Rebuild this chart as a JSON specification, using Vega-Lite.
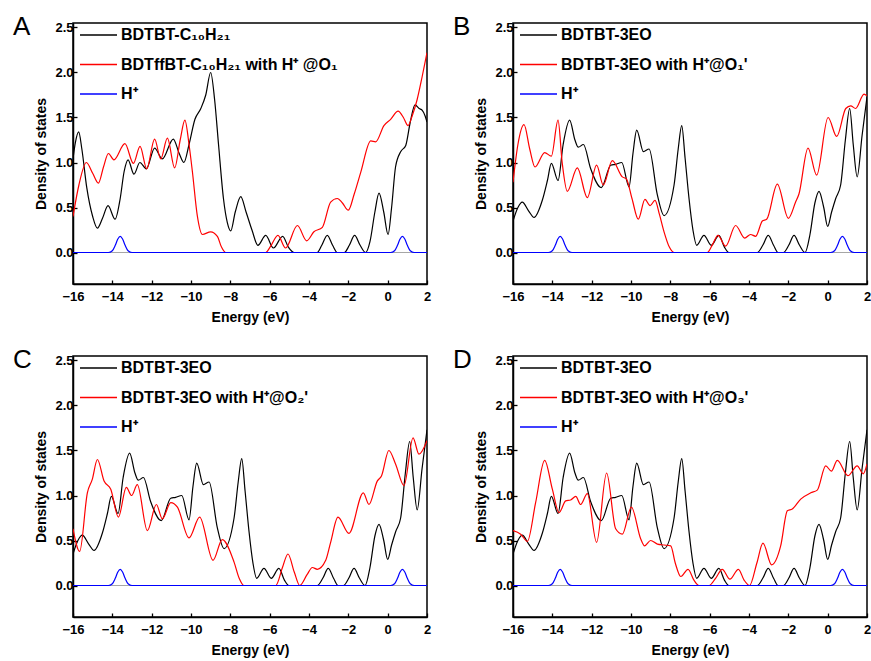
{
  "$schema": "https://vega.github.io/schema/vega-lite/v6.json",
  "background": "white",
  "padding": {"left": 12, "top": 12, "right": 2, "bottom": 2},
  "config": {
    "font": "Liberation Sans",
    "view": {"stroke": "#000000", "strokeWidth": 1.5},
    "axis": {"grid": false, "domainColor": "#000000", "domainWidth": 1.5, "tickColor": "#000000", "tickWidth": 1.3, "tickSize": -4, "labelFont": "Liberation Sans", "labelFontSize": 13, "labelFontWeight": "bold", "labelColor": "#000000", "titleFont": "Liberation Sans", "titleFontSize": 14, "titleFontWeight": "bold", "titleColor": "#000000", "labelFlush": false, "labelOverlap": false},
    "axisX": {"labelPadding": 10, "titlePadding": 7},
    "axisY": {"labelPadding": 4, "titlePadding": 6},
    "title": {"anchor": "start", "frame": "group", "dx": -60, "offset": -24, "baseline": "alphabetic", "fontSize": 26, "fontWeight": "normal", "font": "Liberation Sans", "color": "#000000"},
    "legend": {"orient": "none", "legendX": 6, "legendY": -7.5, "padding": 0, "title": null, "symbolType": "stroke", "symbolSize": 1369, "symbolStrokeWidth": 1.3, "labelFont": "Liberation Sans", "labelFontSize": 16, "labelFontWeight": "bold", "labelOffset": 3, "rowPadding": 1.5, "labelLimit": 500}
  },
  "data": {"values": [
    {"p":"A","s":"BDTBT-C₁₀H₂₁","e":-16,"d":1.04},{"p":"A","s":"BDTBT-C₁₀H₂₁","e":-15.88,"d":1.22},{"p":"A","s":"BDTBT-C₁₀H₂₁","e":-15.71,"d":1.34},{"p":"A","s":"BDTBT-C₁₀H₂₁","e":-15.55,"d":1.15},{"p":"A","s":"BDTBT-C₁₀H₂₁","e":-15.3,"d":0.72},{"p":"A","s":"BDTBT-C₁₀H₂₁","e":-15.0,"d":0.4},{"p":"A","s":"BDTBT-C₁₀H₂₁","e":-14.76,"d":0.27},{"p":"A","s":"BDTBT-C₁₀H₂₁","e":-14.5,"d":0.38},{"p":"A","s":"BDTBT-C₁₀H₂₁","e":-14.22,"d":0.52},{"p":"A","s":"BDTBT-C₁₀H₂₁","e":-13.86,"d":0.37},{"p":"A","s":"BDTBT-C₁₀H₂₁","e":-13.6,"d":0.6},{"p":"A","s":"BDTBT-C₁₀H₂₁","e":-13.4,"d":0.9},{"p":"A","s":"BDTBT-C₁₀H₂₁","e":-13.2,"d":1.03},{"p":"A","s":"BDTBT-C₁₀H₂₁","e":-12.9,"d":0.87},{"p":"A","s":"BDTBT-C₁₀H₂₁","e":-12.6,"d":1.0},{"p":"A","s":"BDTBT-C₁₀H₂₁","e":-12.27,"d":0.93},{"p":"A","s":"BDTBT-C₁₀H₂₁","e":-11.85,"d":1.16},{"p":"A","s":"BDTBT-C₁₀H₂₁","e":-11.46,"d":1.04},{"p":"A","s":"BDTBT-C₁₀H₂₁","e":-10.9,"d":1.26},{"p":"A","s":"BDTBT-C₁₀H₂₁","e":-10.6,"d":1.1},{"p":"A","s":"BDTBT-C₁₀H₂₁","e":-10.36,"d":1.0},{"p":"A","s":"BDTBT-C₁₀H₂₁","e":-10.1,"d":1.2},{"p":"A","s":"BDTBT-C₁₀H₂₁","e":-9.8,"d":1.48},{"p":"A","s":"BDTBT-C₁₀H₂₁","e":-9.5,"d":1.6},{"p":"A","s":"BDTBT-C₁₀H₂₁","e":-9.25,"d":1.75},{"p":"A","s":"BDTBT-C₁₀H₂₁","e":-9.0,"d":2.0},{"p":"A","s":"BDTBT-C₁₀H₂₁","e":-8.8,"d":1.7},{"p":"A","s":"BDTBT-C₁₀H₂₁","e":-8.6,"d":1.2},{"p":"A","s":"BDTBT-C₁₀H₂₁","e":-8.35,"d":0.6},{"p":"A","s":"BDTBT-C₁₀H₂₁","e":-8.15,"d":0.33},{"p":"A","s":"BDTBT-C₁₀H₂₁","e":-7.98,"d":0.24},{"p":"A","s":"BDTBT-C₁₀H₂₁","e":-7.75,"d":0.45},{"p":"A","s":"BDTBT-C₁₀H₂₁","e":-7.47,"d":0.62},{"p":"A","s":"BDTBT-C₁₀H₂₁","e":-7.2,"d":0.45},{"p":"A","s":"BDTBT-C₁₀H₂₁","e":-6.9,"d":0.25},{"p":"A","s":"BDTBT-C₁₀H₂₁","e":-6.6,"d":0.08},{"p":"A","s":"BDTBT-C₁₀H₂₁","e":-6.2,"d":0.19},{"p":"A","s":"BDTBT-C₁₀H₂₁","e":-5.81,"d":0.05},{"p":"A","s":"BDTBT-C₁₀H₂₁","e":-5.34,"d":0.18},{"p":"A","s":"BDTBT-C₁₀H₂₁","e":-5.05,"d":0.06},{"p":"A","s":"BDTBT-C₁₀H₂₁","e":-4.76,"d":0},{"p":"A","s":"BDTBT-C₁₀H₂₁","e":-3.58,"d":0},{"p":"A","s":"BDTBT-C₁₀H₂₁","e":-3.35,"d":0.08},{"p":"A","s":"BDTBT-C₁₀H₂₁","e":-3.07,"d":0.19},{"p":"A","s":"BDTBT-C₁₀H₂₁","e":-2.8,"d":0.08},{"p":"A","s":"BDTBT-C₁₀H₂₁","e":-2.56,"d":0},{"p":"A","s":"BDTBT-C₁₀H₂₁","e":-2.2,"d":0},{"p":"A","s":"BDTBT-C₁₀H₂₁","e":-1.95,"d":0.08},{"p":"A","s":"BDTBT-C₁₀H₂₁","e":-1.68,"d":0.19},{"p":"A","s":"BDTBT-C₁₀H₂₁","e":-1.4,"d":0.08},{"p":"A","s":"BDTBT-C₁₀H₂₁","e":-1.12,"d":0},{"p":"A","s":"BDTBT-C₁₀H₂₁","e":-0.9,"d":0.12},{"p":"A","s":"BDTBT-C₁₀H₂₁","e":-0.65,"d":0.45},{"p":"A","s":"BDTBT-C₁₀H₂₁","e":-0.44,"d":0.66},{"p":"A","s":"BDTBT-C₁₀H₂₁","e":-0.2,"d":0.45},{"p":"A","s":"BDTBT-C₁₀H₂₁","e":0.02,"d":0.2},{"p":"A","s":"BDTBT-C₁₀H₂₁","e":0.2,"d":0.5},{"p":"A","s":"BDTBT-C₁₀H₂₁","e":0.4,"d":0.95},{"p":"A","s":"BDTBT-C₁₀H₂₁","e":0.66,"d":1.12},{"p":"A","s":"BDTBT-C₁₀H₂₁","e":0.92,"d":1.19},{"p":"A","s":"BDTBT-C₁₀H₂₁","e":1.15,"d":1.45},{"p":"A","s":"BDTBT-C₁₀H₂₁","e":1.39,"d":1.64},{"p":"A","s":"BDTBT-C₁₀H₂₁","e":1.6,"d":1.6},{"p":"A","s":"BDTBT-C₁₀H₂₁","e":1.76,"d":1.58},{"p":"A","s":"BDTBT-C₁₀H₂₁","e":1.9,"d":1.52},{"p":"A","s":"BDTBT-C₁₀H₂₁","e":2,"d":1.45},

    {"p":"A","s":"BDTffBT-C₁₀H₂₁ with H⁺ @O₁","e":-16,"d":0.4},{"p":"A","s":"BDTffBT-C₁₀H₂₁ with H⁺ @O₁","e":-15.7,"d":0.75},{"p":"A","s":"BDTffBT-C₁₀H₂₁ with H⁺ @O₁","e":-15.32,"d":1.0},{"p":"A","s":"BDTffBT-C₁₀H₂₁ with H⁺ @O₁","e":-15.0,"d":0.88},{"p":"A","s":"BDTffBT-C₁₀H₂₁ with H⁺ @O₁","e":-14.71,"d":0.77},{"p":"A","s":"BDTffBT-C₁₀H₂₁ with H⁺ @O₁","e":-14.45,"d":0.95},{"p":"A","s":"BDTffBT-C₁₀H₂₁ with H⁺ @O₁","e":-14.2,"d":1.1},{"p":"A","s":"BDTffBT-C₁₀H₂₁ with H⁺ @O₁","e":-13.92,"d":1.03},{"p":"A","s":"BDTffBT-C₁₀H₂₁ with H⁺ @O₁","e":-13.36,"d":1.21},{"p":"A","s":"BDTffBT-C₁₀H₂₁ with H⁺ @O₁","e":-12.93,"d":0.99},{"p":"A","s":"BDTffBT-C₁₀H₂₁ with H⁺ @O₁","e":-12.59,"d":1.18},{"p":"A","s":"BDTffBT-C₁₀H₂₁ with H⁺ @O₁","e":-12.25,"d":0.93},{"p":"A","s":"BDTffBT-C₁₀H₂₁ with H⁺ @O₁","e":-11.85,"d":1.26},{"p":"A","s":"BDTffBT-C₁₀H₂₁ with H⁺ @O₁","e":-11.54,"d":1.04},{"p":"A","s":"BDTffBT-C₁₀H₂₁ with H⁺ @O₁","e":-11.2,"d":1.27},{"p":"A","s":"BDTffBT-C₁₀H₂₁ with H⁺ @O₁","e":-10.83,"d":0.94},{"p":"A","s":"BDTffBT-C₁₀H₂₁ with H⁺ @O₁","e":-10.55,"d":1.25},{"p":"A","s":"BDTffBT-C₁₀H₂₁ with H⁺ @O₁","e":-10.31,"d":1.47},{"p":"A","s":"BDTffBT-C₁₀H₂₁ with H⁺ @O₁","e":-10.1,"d":1.2},{"p":"A","s":"BDTffBT-C₁₀H₂₁ with H⁺ @O₁","e":-9.93,"d":0.9},{"p":"A","s":"BDTffBT-C₁₀H₂₁ with H⁺ @O₁","e":-9.68,"d":0.41},{"p":"A","s":"BDTffBT-C₁₀H₂₁ with H⁺ @O₁","e":-9.42,"d":0.2},{"p":"A","s":"BDTffBT-C₁₀H₂₁ with H⁺ @O₁","e":-9.0,"d":0.23},{"p":"A","s":"BDTffBT-C₁₀H₂₁ with H⁺ @O₁","e":-8.66,"d":0.18},{"p":"A","s":"BDTffBT-C₁₀H₂₁ with H⁺ @O₁","e":-8.45,"d":0.06},{"p":"A","s":"BDTffBT-C₁₀H₂₁ with H⁺ @O₁","e":-8.24,"d":0},{"p":"A","s":"BDTffBT-C₁₀H₂₁ with H⁺ @O₁","e":-6.2,"d":0},{"p":"A","s":"BDTffBT-C₁₀H₂₁ with H⁺ @O₁","e":-5.95,"d":0.07},{"p":"A","s":"BDTffBT-C₁₀H₂₁ with H⁺ @O₁","e":-5.58,"d":0.19},{"p":"A","s":"BDTffBT-C₁₀H₂₁ with H⁺ @O₁","e":-5.19,"d":0.05},{"p":"A","s":"BDTffBT-C₁₀H₂₁ with H⁺ @O₁","e":-4.59,"d":0.3},{"p":"A","s":"BDTffBT-C₁₀H₂₁ with H⁺ @O₁","e":-4.12,"d":0.13},{"p":"A","s":"BDTffBT-C₁₀H₂₁ with H⁺ @O₁","e":-3.75,"d":0.23},{"p":"A","s":"BDTffBT-C₁₀H₂₁ with H⁺ @O₁","e":-3.32,"d":0.28},{"p":"A","s":"BDTffBT-C₁₀H₂₁ with H⁺ @O₁","e":-2.9,"d":0.56},{"p":"A","s":"BDTffBT-C₁₀H₂₁ with H⁺ @O₁","e":-2.56,"d":0.6},{"p":"A","s":"BDTffBT-C₁₀H₂₁ with H⁺ @O₁","e":-2.3,"d":0.55},{"p":"A","s":"BDTffBT-C₁₀H₂₁ with H⁺ @O₁","e":-2.0,"d":0.47},{"p":"A","s":"BDTffBT-C₁₀H₂₁ with H⁺ @O₁","e":-1.7,"d":0.65},{"p":"A","s":"BDTffBT-C₁₀H₂₁ with H⁺ @O₁","e":-1.37,"d":0.89},{"p":"A","s":"BDTffBT-C₁₀H₂₁ with H⁺ @O₁","e":-0.86,"d":1.24},{"p":"A","s":"BDTffBT-C₁₀H₂₁ with H⁺ @O₁","e":-0.61,"d":1.23},{"p":"A","s":"BDTffBT-C₁₀H₂₁ with H⁺ @O₁","e":-0.19,"d":1.41},{"p":"A","s":"BDTffBT-C₁₀H₂₁ with H⁺ @O₁","e":0.15,"d":1.48},{"p":"A","s":"BDTffBT-C₁₀H₂₁ with H⁺ @O₁","e":0.53,"d":1.57},{"p":"A","s":"BDTffBT-C₁₀H₂₁ with H⁺ @O₁","e":0.8,"d":1.5},{"p":"A","s":"BDTffBT-C₁₀H₂₁ with H⁺ @O₁","e":1.03,"d":1.41},{"p":"A","s":"BDTffBT-C₁₀H₂₁ with H⁺ @O₁","e":1.25,"d":1.52},{"p":"A","s":"BDTffBT-C₁₀H₂₁ with H⁺ @O₁","e":1.5,"d":1.7},{"p":"A","s":"BDTffBT-C₁₀H₂₁ with H⁺ @O₁","e":1.75,"d":1.95},{"p":"A","s":"BDTffBT-C₁₀H₂₁ with H⁺ @O₁","e":2,"d":2.22},

    {"p":"BCD","s":"BDTBT-3EO","e":-16,"d":0.35},{"p":"BCD","s":"BDTBT-3EO","e":-15.75,"d":0.5},{"p":"BCD","s":"BDTBT-3EO","e":-15.53,"d":0.56},{"p":"BCD","s":"BDTBT-3EO","e":-15.2,"d":0.46},{"p":"BCD","s":"BDTBT-3EO","e":-14.93,"d":0.39},{"p":"BCD","s":"BDTBT-3EO","e":-14.51,"d":0.58},{"p":"BCD","s":"BDTBT-3EO","e":-14.25,"d":0.8},{"p":"BCD","s":"BDTBT-3EO","e":-14.05,"d":0.99},{"p":"BCD","s":"BDTBT-3EO","e":-13.71,"d":0.8},{"p":"BCD","s":"BDTBT-3EO","e":-13.45,"d":1.2},{"p":"BCD","s":"BDTBT-3EO","e":-13.12,"d":1.47},{"p":"BCD","s":"BDTBT-3EO","e":-12.85,"d":1.25},{"p":"BCD","s":"BDTBT-3EO","e":-12.68,"d":1.17},{"p":"BCD","s":"BDTBT-3EO","e":-12.42,"d":1.2},{"p":"BCD","s":"BDTBT-3EO","e":-12.05,"d":0.93},{"p":"BCD","s":"BDTBT-3EO","e":-11.51,"d":0.72},{"p":"BCD","s":"BDTBT-3EO","e":-11.03,"d":0.97},{"p":"BCD","s":"BDTBT-3EO","e":-10.78,"d":0.98},{"p":"BCD","s":"BDTBT-3EO","e":-10.47,"d":1.0},{"p":"BCD","s":"BDTBT-3EO","e":-10.1,"d":0.73},{"p":"BCD","s":"BDTBT-3EO","e":-9.9,"d":1.1},{"p":"BCD","s":"BDTBT-3EO","e":-9.71,"d":1.36},{"p":"BCD","s":"BDTBT-3EO","e":-9.37,"d":1.12},{"p":"BCD","s":"BDTBT-3EO","e":-9.08,"d":1.15},{"p":"BCD","s":"BDTBT-3EO","e":-8.66,"d":0.64},{"p":"BCD","s":"BDTBT-3EO","e":-8.32,"d":0.41},{"p":"BCD","s":"BDTBT-3EO","e":-7.81,"d":0.75},{"p":"BCD","s":"BDTBT-3EO","e":-7.6,"d":1.15},{"p":"BCD","s":"BDTBT-3EO","e":-7.42,"d":1.41},{"p":"BCD","s":"BDTBT-3EO","e":-7.25,"d":1.05},{"p":"BCD","s":"BDTBT-3EO","e":-7.05,"d":0.6},{"p":"BCD","s":"BDTBT-3EO","e":-6.85,"d":0.25},{"p":"BCD","s":"BDTBT-3EO","e":-6.66,"d":0.08},{"p":"BCD","s":"BDTBT-3EO","e":-6.29,"d":0.19},{"p":"BCD","s":"BDTBT-3EO","e":-5.92,"d":0.08},{"p":"BCD","s":"BDTBT-3EO","e":-5.53,"d":0.19},{"p":"BCD","s":"BDTBT-3EO","e":-5.25,"d":0.06},{"p":"BCD","s":"BDTBT-3EO","e":-5.02,"d":0},{"p":"BCD","s":"BDTBT-3EO","e":-3.58,"d":0},{"p":"BCD","s":"BDTBT-3EO","e":-3.3,"d":0.08},{"p":"BCD","s":"BDTBT-3EO","e":-3.02,"d":0.19},{"p":"BCD","s":"BDTBT-3EO","e":-2.75,"d":0.08},{"p":"BCD","s":"BDTBT-3EO","e":-2.53,"d":0},{"p":"BCD","s":"BDTBT-3EO","e":-2.25,"d":0},{"p":"BCD","s":"BDTBT-3EO","e":-1.98,"d":0.08},{"p":"BCD","s":"BDTBT-3EO","e":-1.71,"d":0.19},{"p":"BCD","s":"BDTBT-3EO","e":-1.43,"d":0.08},{"p":"BCD","s":"BDTBT-3EO","e":-1.15,"d":0},{"p":"BCD","s":"BDTBT-3EO","e":-0.9,"d":0.2},{"p":"BCD","s":"BDTBT-3EO","e":-0.65,"d":0.55},{"p":"BCD","s":"BDTBT-3EO","e":-0.44,"d":0.68},{"p":"BCD","s":"BDTBT-3EO","e":-0.2,"d":0.5},{"p":"BCD","s":"BDTBT-3EO","e":0.0,"d":0.29},{"p":"BCD","s":"BDTBT-3EO","e":0.2,"d":0.45},{"p":"BCD","s":"BDTBT-3EO","e":0.41,"d":0.6},{"p":"BCD","s":"BDTBT-3EO","e":0.66,"d":0.75},{"p":"BCD","s":"BDTBT-3EO","e":0.9,"d":1.25},{"p":"BCD","s":"BDTBT-3EO","e":1.12,"d":1.6},{"p":"BCD","s":"BDTBT-3EO","e":1.3,"d":1.2},{"p":"BCD","s":"BDTBT-3EO","e":1.5,"d":0.84},{"p":"BCD","s":"BDTBT-3EO","e":1.75,"d":1.3},{"p":"BCD","s":"BDTBT-3EO","e":2,"d":1.73},

    {"p":"B","s":"BDTBT-3EO with H⁺@O₁'","e":-16,"d":0.78},{"p":"B","s":"BDTBT-3EO with H⁺@O₁'","e":-15.75,"d":1.2},{"p":"B","s":"BDTBT-3EO with H⁺@O₁'","e":-15.44,"d":1.42},{"p":"B","s":"BDTBT-3EO with H⁺@O₁'","e":-15.15,"d":1.15},{"p":"B","s":"BDTBT-3EO with H⁺@O₁'","e":-14.88,"d":0.95},{"p":"B","s":"BDTBT-3EO with H⁺@O₁'","e":-14.39,"d":1.11},{"p":"B","s":"BDTBT-3EO with H⁺@O₁'","e":-14.05,"d":1.07},{"p":"B","s":"BDTBT-3EO with H⁺@O₁'","e":-13.71,"d":1.47},{"p":"B","s":"BDTBT-3EO with H⁺@O₁'","e":-13.5,"d":1.0},{"p":"B","s":"BDTBT-3EO with H⁺@O₁'","e":-13.24,"d":0.68},{"p":"B","s":"BDTBT-3EO with H⁺@O₁'","e":-12.73,"d":0.94},{"p":"B","s":"BDTBT-3EO with H⁺@O₁'","e":-12.22,"d":0.61},{"p":"B","s":"BDTBT-3EO with H⁺@O₁'","e":-11.75,"d":0.97},{"p":"B","s":"BDTBT-3EO with H⁺@O₁'","e":-11.41,"d":0.75},{"p":"B","s":"BDTBT-3EO with H⁺@O₁'","e":-10.95,"d":1.02},{"p":"B","s":"BDTBT-3EO with H⁺@O₁'","e":-10.44,"d":0.84},{"p":"B","s":"BDTBT-3EO with H⁺@O₁'","e":-10.24,"d":0.82},{"p":"B","s":"BDTBT-3EO with H⁺@O₁'","e":-9.95,"d":0.6},{"p":"B","s":"BDTBT-3EO with H⁺@O₁'","e":-9.63,"d":0.37},{"p":"B","s":"BDTBT-3EO with H⁺@O₁'","e":-9.29,"d":0.59},{"p":"B","s":"BDTBT-3EO with H⁺@O₁'","e":-9.03,"d":0.52},{"p":"B","s":"BDTBT-3EO with H⁺@O₁'","e":-8.78,"d":0.58},{"p":"B","s":"BDTBT-3EO with H⁺@O₁'","e":-8.55,"d":0.42},{"p":"B","s":"BDTBT-3EO with H⁺@O₁'","e":-8.32,"d":0.23},{"p":"B","s":"BDTBT-3EO with H⁺@O₁'","e":-8.05,"d":0.06},{"p":"B","s":"BDTBT-3EO with H⁺@O₁'","e":-7.81,"d":0},{"p":"B","s":"BDTBT-3EO with H⁺@O₁'","e":-6.12,"d":0},{"p":"B","s":"BDTBT-3EO with H⁺@O₁'","e":-5.85,"d":0.09},{"p":"B","s":"BDTBT-3EO with H⁺@O₁'","e":-5.58,"d":0.19},{"p":"B","s":"BDTBT-3EO with H⁺@O₁'","e":-5.19,"d":0.07},{"p":"B","s":"BDTBT-3EO with H⁺@O₁'","e":-4.68,"d":0.3},{"p":"B","s":"BDTBT-3EO with H⁺@O₁'","e":-4.22,"d":0.16},{"p":"B","s":"BDTBT-3EO with H⁺@O₁'","e":-3.92,"d":0.2},{"p":"B","s":"BDTBT-3EO with H⁺@O₁'","e":-3.66,"d":0.18},{"p":"B","s":"BDTBT-3EO with H⁺@O₁'","e":-3.32,"d":0.35},{"p":"B","s":"BDTBT-3EO with H⁺@O₁'","e":-3.1,"d":0.37},{"p":"B","s":"BDTBT-3EO with H⁺@O₁'","e":-2.56,"d":0.76},{"p":"B","s":"BDTBT-3EO with H⁺@O₁'","e":-2.0,"d":0.38},{"p":"B","s":"BDTBT-3EO with H⁺@O₁'","e":-1.63,"d":0.56},{"p":"B","s":"BDTBT-3EO with H⁺@O₁'","e":-1.46,"d":0.65},{"p":"B","s":"BDTBT-3EO with H⁺@O₁'","e":-1.0,"d":1.16},{"p":"B","s":"BDTBT-3EO with H⁺@O₁'","e":-0.56,"d":0.86},{"p":"B","s":"BDTBT-3EO with H⁺@O₁'","e":0.02,"d":1.5},{"p":"B","s":"BDTBT-3EO with H⁺@O₁'","e":0.46,"d":1.29},{"p":"B","s":"BDTBT-3EO with H⁺@O₁'","e":0.92,"d":1.6},{"p":"B","s":"BDTBT-3EO with H⁺@O₁'","e":1.17,"d":1.63},{"p":"B","s":"BDTBT-3EO with H⁺@O₁'","e":1.42,"d":1.6},{"p":"B","s":"BDTBT-3EO with H⁺@O₁'","e":1.85,"d":1.76},{"p":"B","s":"BDTBT-3EO with H⁺@O₁'","e":2,"d":1.74},

    {"p":"C","s":"BDTBT-3EO with H⁺@O₂'","e":-16,"d":0.63},{"p":"C","s":"BDTBT-3EO with H⁺@O₂'","e":-15.66,"d":0.38},{"p":"C","s":"BDTBT-3EO with H⁺@O₂'","e":-15.27,"d":1.03},{"p":"C","s":"BDTBT-3EO with H⁺@O₂'","e":-15.02,"d":1.18},{"p":"C","s":"BDTBT-3EO with H⁺@O₂'","e":-14.76,"d":1.4},{"p":"C","s":"BDTBT-3EO with H⁺@O₂'","e":-14.42,"d":1.16},{"p":"C","s":"BDTBT-3EO with H⁺@O₂'","e":-14.08,"d":1.07},{"p":"C","s":"BDTBT-3EO with H⁺@O₂'","e":-13.69,"d":0.76},{"p":"C","s":"BDTBT-3EO with H⁺@O₂'","e":-13.29,"d":1.09},{"p":"C","s":"BDTBT-3EO with H⁺@O₂'","e":-13.02,"d":1.0},{"p":"C","s":"BDTBT-3EO with H⁺@O₂'","e":-12.73,"d":1.12},{"p":"C","s":"BDTBT-3EO with H⁺@O₂'","e":-12.22,"d":0.61},{"p":"C","s":"BDTBT-3EO with H⁺@O₂'","e":-11.76,"d":0.9},{"p":"C","s":"BDTBT-3EO with H⁺@O₂'","e":-11.46,"d":0.74},{"p":"C","s":"BDTBT-3EO with H⁺@O₂'","e":-11.03,"d":0.92},{"p":"C","s":"BDTBT-3EO with H⁺@O₂'","e":-10.69,"d":0.87},{"p":"C","s":"BDTBT-3EO with H⁺@O₂'","e":-10.1,"d":0.53},{"p":"C","s":"BDTBT-3EO with H⁺@O₂'","e":-9.56,"d":0.76},{"p":"C","s":"BDTBT-3EO with H⁺@O₂'","e":-8.88,"d":0.28},{"p":"C","s":"BDTBT-3EO with H⁺@O₂'","e":-8.41,"d":0.51},{"p":"C","s":"BDTBT-3EO with H⁺@O₂'","e":-7.81,"d":0.26},{"p":"C","s":"BDTBT-3EO with H⁺@O₂'","e":-7.55,"d":0.08},{"p":"C","s":"BDTBT-3EO with H⁺@O₂'","e":-7.31,"d":0},{"p":"C","s":"BDTBT-3EO with H⁺@O₂'","e":-5.69,"d":0},{"p":"C","s":"BDTBT-3EO with H⁺@O₂'","e":-5.35,"d":0.2},{"p":"C","s":"BDTBT-3EO with H⁺@O₂'","e":-5.07,"d":0.35},{"p":"C","s":"BDTBT-3EO with H⁺@O₂'","e":-4.75,"d":0.15},{"p":"C","s":"BDTBT-3EO with H⁺@O₂'","e":-4.47,"d":0},{"p":"C","s":"BDTBT-3EO with H⁺@O₂'","e":-4.1,"d":0.12},{"p":"C","s":"BDTBT-3EO with H⁺@O₂'","e":-3.83,"d":0.2},{"p":"C","s":"BDTBT-3EO with H⁺@O₂'","e":-3.58,"d":0.18},{"p":"C","s":"BDTBT-3EO with H⁺@O₂'","e":-3.15,"d":0.28},{"p":"C","s":"BDTBT-3EO with H⁺@O₂'","e":-2.9,"d":0.48},{"p":"C","s":"BDTBT-3EO with H⁺@O₂'","e":-2.53,"d":0.76},{"p":"C","s":"BDTBT-3EO with H⁺@O₂'","e":-1.97,"d":0.58},{"p":"C","s":"BDTBT-3EO with H⁺@O₂'","e":-1.24,"d":1.03},{"p":"C","s":"BDTBT-3EO with H⁺@O₂'","e":-0.95,"d":0.9},{"p":"C","s":"BDTBT-3EO with H⁺@O₂'","e":-0.53,"d":1.16},{"p":"C","s":"BDTBT-3EO with H⁺@O₂'","e":-0.31,"d":1.22},{"p":"C","s":"BDTBT-3EO with H⁺@O₂'","e":0.06,"d":1.5},{"p":"C","s":"BDTBT-3EO with H⁺@O₂'","e":0.4,"d":1.35},{"p":"C","s":"BDTBT-3EO with H⁺@O₂'","e":0.83,"d":1.11},{"p":"C","s":"BDTBT-3EO with H⁺@O₂'","e":1.29,"d":1.64},{"p":"C","s":"BDTBT-3EO with H⁺@O₂'","e":1.59,"d":1.46},{"p":"C","s":"BDTBT-3EO with H⁺@O₂'","e":2,"d":1.61},

    {"p":"D","s":"BDTBT-3EO with H⁺@O₃'","e":-16,"d":0.61},{"p":"D","s":"BDTBT-3EO with H⁺@O₃'","e":-15.61,"d":0.57},{"p":"D","s":"BDTBT-3EO with H⁺@O₃'","e":-15.27,"d":0.49},{"p":"D","s":"BDTBT-3EO with H⁺@O₃'","e":-14.85,"d":0.92},{"p":"D","s":"BDTBT-3EO with H⁺@O₃'","e":-14.39,"d":1.39},{"p":"D","s":"BDTBT-3EO with H⁺@O₃'","e":-14.0,"d":1.07},{"p":"D","s":"BDTBT-3EO with H⁺@O₃'","e":-13.66,"d":0.81},{"p":"D","s":"BDTBT-3EO with H⁺@O₃'","e":-13.32,"d":0.94},{"p":"D","s":"BDTBT-3EO with H⁺@O₃'","e":-13.07,"d":0.95},{"p":"D","s":"BDTBT-3EO with H⁺@O₃'","e":-12.81,"d":0.99},{"p":"D","s":"BDTBT-3EO with H⁺@O₃'","e":-12.56,"d":0.9},{"p":"D","s":"BDTBT-3EO with H⁺@O₃'","e":-12.22,"d":1.02},{"p":"D","s":"BDTBT-3EO with H⁺@O₃'","e":-11.75,"d":0.48},{"p":"D","s":"BDTBT-3EO with H⁺@O₃'","e":-11.24,"d":1.25},{"p":"D","s":"BDTBT-3EO with H⁺@O₃'","e":-10.78,"d":0.63},{"p":"D","s":"BDTBT-3EO with H⁺@O₃'","e":-10.44,"d":0.57},{"p":"D","s":"BDTBT-3EO with H⁺@O₃'","e":-9.98,"d":0.87},{"p":"D","s":"BDTBT-3EO with H⁺@O₃'","e":-9.51,"d":0.52},{"p":"D","s":"BDTBT-3EO with H⁺@O₃'","e":-9.31,"d":0.44},{"p":"D","s":"BDTBT-3EO with H⁺@O₃'","e":-9.0,"d":0.5},{"p":"D","s":"BDTBT-3EO with H⁺@O₃'","e":-8.66,"d":0.46},{"p":"D","s":"BDTBT-3EO with H⁺@O₃'","e":-8.32,"d":0.45},{"p":"D","s":"BDTBT-3EO with H⁺@O₃'","e":-7.98,"d":0.44},{"p":"D","s":"BDTBT-3EO with H⁺@O₃'","e":-7.75,"d":0.25},{"p":"D","s":"BDTBT-3EO with H⁺@O₃'","e":-7.47,"d":0.1},{"p":"D","s":"BDTBT-3EO with H⁺@O₃'","e":-7.1,"d":0.18},{"p":"D","s":"BDTBT-3EO with H⁺@O₃'","e":-6.8,"d":0.06},{"p":"D","s":"BDTBT-3EO with H⁺@O₃'","e":-6.54,"d":0},{"p":"D","s":"BDTBT-3EO with H⁺@O₃'","e":-6.03,"d":0},{"p":"D","s":"BDTBT-3EO with H⁺@O₃'","e":-5.7,"d":0.08},{"p":"D","s":"BDTBT-3EO with H⁺@O₃'","e":-5.36,"d":0.18},{"p":"D","s":"BDTBT-3EO with H⁺@O₃'","e":-4.97,"d":0.07},{"p":"D","s":"BDTBT-3EO with H⁺@O₃'","e":-4.54,"d":0.18},{"p":"D","s":"BDTBT-3EO with H⁺@O₃'","e":-4.25,"d":0.06},{"p":"D","s":"BDTBT-3EO with H⁺@O₃'","e":-3.97,"d":0},{"p":"D","s":"BDTBT-3EO with H⁺@O₃'","e":-3.6,"d":0.25},{"p":"D","s":"BDTBT-3EO with H⁺@O₃'","e":-3.29,"d":0.47},{"p":"D","s":"BDTBT-3EO with H⁺@O₃'","e":-2.85,"d":0.23},{"p":"D","s":"BDTBT-3EO with H⁺@O₃'","e":-2.39,"d":0.44},{"p":"D","s":"BDTBT-3EO with H⁺@O₃'","e":-2.05,"d":0.83},{"p":"D","s":"BDTBT-3EO with H⁺@O₃'","e":-1.8,"d":0.85},{"p":"D","s":"BDTBT-3EO with H⁺@O₃'","e":-1.37,"d":0.96},{"p":"D","s":"BDTBT-3EO with H⁺@O₃'","e":-0.86,"d":1.03},{"p":"D","s":"BDTBT-3EO with H⁺@O₃'","e":-0.53,"d":1.06},{"p":"D","s":"BDTBT-3EO with H⁺@O₃'","e":-0.1,"d":1.33},{"p":"D","s":"BDTBT-3EO with H⁺@O₃'","e":0.19,"d":1.27},{"p":"D","s":"BDTBT-3EO with H⁺@O₃'","e":0.49,"d":1.39},{"p":"D","s":"BDTBT-3EO with H⁺@O₃'","e":1.03,"d":1.22},{"p":"D","s":"BDTBT-3EO with H⁺@O₃'","e":1.5,"d":1.33},{"p":"D","s":"BDTBT-3EO with H⁺@O₃'","e":1.81,"d":1.24},{"p":"D","s":"BDTBT-3EO with H⁺@O₃'","e":2,"d":1.35},

    {"p":"ABCD","s":"H⁺","e":-16,"d":0},{"p":"ABCD","s":"H⁺","e":-14.2,"d":0},{"p":"ABCD","s":"H⁺","e":-14.0,"d":0.02},{"p":"ABCD","s":"H⁺","e":-13.85,"d":0.08},{"p":"ABCD","s":"H⁺","e":-13.72,"d":0.15},{"p":"ABCD","s":"H⁺","e":-13.6,"d":0.18},{"p":"ABCD","s":"H⁺","e":-13.48,"d":0.15},{"p":"ABCD","s":"H⁺","e":-13.35,"d":0.08},{"p":"ABCD","s":"H⁺","e":-13.2,"d":0.02},{"p":"ABCD","s":"H⁺","e":-13.0,"d":0},{"p":"ABCD","s":"H⁺","e":0.15,"d":0},{"p":"ABCD","s":"H⁺","e":0.35,"d":0.02},{"p":"ABCD","s":"H⁺","e":0.5,"d":0.08},{"p":"ABCD","s":"H⁺","e":0.63,"d":0.15},{"p":"ABCD","s":"H⁺","e":0.75,"d":0.18},{"p":"ABCD","s":"H⁺","e":0.87,"d":0.15},{"p":"ABCD","s":"H⁺","e":1.0,"d":0.08},{"p":"ABCD","s":"H⁺","e":1.15,"d":0.02},{"p":"ABCD","s":"H⁺","e":1.35,"d":0},{"p":"ABCD","s":"H⁺","e":2,"d":0}
  ]},
  "columns": 2,
  "spacing": {"row": 72, "column": 86},
  "bounds": "flush",
  "resolve": {"scale": {"color": "independent"}, "legend": {"color": "independent"}},
  "concat": [
    {
      "title": {"text": "A"},
      "width": 354, "height": 261,
      "layer": [
        {"data": {"values": [{}]}, "mark": {"type": "rule", "color": "#a6a6a6", "strokeWidth": 1}, "encoding": {"y": {"datum": 0, "type": "quantitative"}}},
        {"transform": [{"filter": "indexof(datum.p, 'A') >= 0"}],
         "mark": {"type": "line", "interpolate": "monotone", "strokeWidth": 1.2, "clip": true},
         "encoding": {
           "x": {"field": "e", "type": "quantitative", "scale": {"domain": [-16, 2], "nice": false, "zero": false}, "axis": {"title": "Energy (eV)", "values": [-16,-14,-12,-10,-8,-6,-4,-2,0,2], "format": "d"}},
           "y": {"field": "d", "type": "quantitative", "scale": {"domain": [-0.35, 2.55], "nice": false, "zero": false}, "axis": {"title": "Density of states", "values": [0,0.5,1,1.5,2,2.5], "format": ".1f"}},
           "color": {"field": "s", "type": "nominal", "scale": {"domain": ["BDTBT-C₁₀H₂₁", "BDTffBT-C₁₀H₂₁ with H⁺ @O₁", "H⁺"], "range": ["#000000", "#ff0000", "#0000ff"]},
             "legend": {"encoding": {"labels": {"update": {"fill": {"signal": "datum.value === 'H⁺' ? '#0000ff' : indexof(datum.value, 'with') >= 0 ? '#ff0000' : '#000000'"}}}}}}
         }}
      ]
    },
    {
      "title": {"text": "B"},
      "width": 354, "height": 261,
      "layer": [
        {"data": {"values": [{}]}, "mark": {"type": "rule", "color": "#a6a6a6", "strokeWidth": 1}, "encoding": {"y": {"datum": 0, "type": "quantitative"}}},
        {"transform": [{"filter": "indexof(datum.p, 'B') >= 0"}],
         "mark": {"type": "line", "interpolate": "monotone", "strokeWidth": 1.2, "clip": true},
         "encoding": {
           "x": {"field": "e", "type": "quantitative", "scale": {"domain": [-16, 2], "nice": false, "zero": false}, "axis": {"title": "Energy (eV)", "values": [-16,-14,-12,-10,-8,-6,-4,-2,0,2], "format": "d"}},
           "y": {"field": "d", "type": "quantitative", "scale": {"domain": [-0.35, 2.55], "nice": false, "zero": false}, "axis": {"title": "Density of states", "values": [0,0.5,1,1.5,2,2.5], "format": ".1f"}},
           "color": {"field": "s", "type": "nominal", "scale": {"domain": ["BDTBT-3EO", "BDTBT-3EO with H⁺@O₁'", "H⁺"], "range": ["#000000", "#ff0000", "#0000ff"]},
             "legend": {"encoding": {"labels": {"update": {"fill": {"signal": "datum.value === 'H⁺' ? '#0000ff' : indexof(datum.value, 'with') >= 0 ? '#ff0000' : '#000000'"}}}}}}
         }}
      ]
    },
    {
      "title": {"text": "C"},
      "width": 354, "height": 261,
      "layer": [
        {"data": {"values": [{}]}, "mark": {"type": "rule", "color": "#a6a6a6", "strokeWidth": 1}, "encoding": {"y": {"datum": 0, "type": "quantitative"}}},
        {"transform": [{"filter": "indexof(datum.p, 'C') >= 0"}],
         "mark": {"type": "line", "interpolate": "monotone", "strokeWidth": 1.2, "clip": true},
         "encoding": {
           "x": {"field": "e", "type": "quantitative", "scale": {"domain": [-16, 2], "nice": false, "zero": false}, "axis": {"title": "Energy (eV)", "values": [-16,-14,-12,-10,-8,-6,-4,-2,0,2], "format": "d"}},
           "y": {"field": "d", "type": "quantitative", "scale": {"domain": [-0.35, 2.55], "nice": false, "zero": false}, "axis": {"title": "Density of states", "values": [0,0.5,1,1.5,2,2.5], "format": ".1f"}},
           "color": {"field": "s", "type": "nominal", "scale": {"domain": ["BDTBT-3EO", "BDTBT-3EO with H⁺@O₂'", "H⁺"], "range": ["#000000", "#ff0000", "#0000ff"]},
             "legend": {"encoding": {"labels": {"update": {"fill": {"signal": "datum.value === 'H⁺' ? '#0000ff' : indexof(datum.value, 'with') >= 0 ? '#ff0000' : '#000000'"}}}}}}
         }}
      ]
    },
    {
      "title": {"text": "D"},
      "width": 354, "height": 261,
      "layer": [
        {"data": {"values": [{}]}, "mark": {"type": "rule", "color": "#a6a6a6", "strokeWidth": 1}, "encoding": {"y": {"datum": 0, "type": "quantitative"}}},
        {"transform": [{"filter": "indexof(datum.p, 'D') >= 0"}],
         "mark": {"type": "line", "interpolate": "monotone", "strokeWidth": 1.2, "clip": true},
         "encoding": {
           "x": {"field": "e", "type": "quantitative", "scale": {"domain": [-16, 2], "nice": false, "zero": false}, "axis": {"title": "Energy (eV)", "values": [-16,-14,-12,-10,-8,-6,-4,-2,0,2], "format": "d"}},
           "y": {"field": "d", "type": "quantitative", "scale": {"domain": [-0.35, 2.55], "nice": false, "zero": false}, "axis": {"title": "Density of states", "values": [0,0.5,1,1.5,2,2.5], "format": ".1f"}},
           "color": {"field": "s", "type": "nominal", "scale": {"domain": ["BDTBT-3EO", "BDTBT-3EO with H⁺@O₃'", "H⁺"], "range": ["#000000", "#ff0000", "#0000ff"]},
             "legend": {"encoding": {"labels": {"update": {"fill": {"signal": "datum.value === 'H⁺' ? '#0000ff' : indexof(datum.value, 'with') >= 0 ? '#ff0000' : '#000000'"}}}}}}
         }}
      ]
    }
  ]
}
